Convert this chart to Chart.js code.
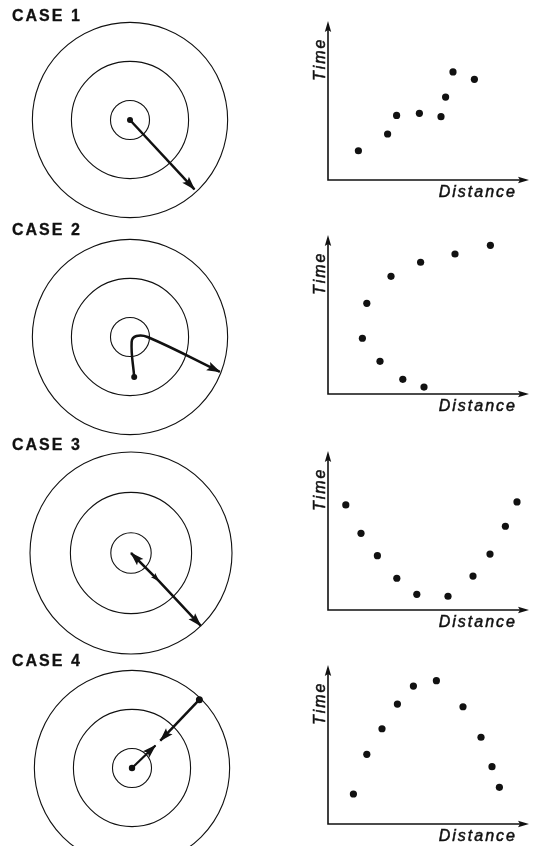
<!DOCTYPE html>
<html>
<head>
<meta charset="utf-8">
<script src="https://cdn.jsdelivr.net/npm/chart.js@4.4.1/dist/chart.umd.min.js"></script>
<style>
  html, body { margin: 0; padding: 0; background: #fff; }
  body { width: 550px; height: 846px; position: relative; overflow: hidden; }
  .case-label {
    position: absolute; left: 12px;
    font: bold 16px/16px "Liberation Sans", Arial, sans-serif;
    letter-spacing: 2px; color: #111;
    -webkit-text-stroke: 0.3px #111;
  }
  canvas { position: absolute; }
</style>
</head>
<body>
<script>
// --- Data ---
const caseLabels = ["CASE 1", "CASE 2", "CASE 3", "CASE 4"];
const xTitle = "Distance";
const yTitle = "Time";

// ring radii of the target diagrams (outer ring = 1)
const ringRadii = [0.2, 0.6, 1.0];

// movement paths drawn inside the rings (x right, y up, outer ring = 1)
const case1PathX = [0, 0.66];
const case1PathY = [0, -0.71];
const case2PathX = [0.043, 0.017, 0.066, 0.18, 0.92];
const case2PathY = [-0.41, -0.05, 0.01, 0.0, -0.356];
const case3PathX = [0, 0.275, 0.69];
const case3PathY = [0, -0.275, -0.72];
const case4InX = [0.69, 0.29];
const case4InY = [0.70, 0.28];
const case4OutX = [0, 0.24];
const case4OutY = [0, 0.23];

// time vs distance readings (both axes 0-10)
const case1Distance = [1.52, 2.98, 3.43, 4.57, 5.65, 5.88, 6.25, 7.32];
const case1Time     = [1.85, 2.91, 4.09, 4.22, 4.01, 5.25, 6.84, 6.37];
const case2Distance = [4.80, 3.74, 2.60, 1.72, 1.94, 3.15, 4.63, 6.35, 8.12];
const case2Time     = [0.44, 0.93, 2.07, 3.53, 5.74, 7.45, 8.34, 8.86, 9.41];
const case3Distance = [0.89, 1.65, 2.47, 3.44, 4.44, 6.00, 7.25, 8.10, 8.87, 9.45];
const case3Time     = [6.65, 4.85, 3.44, 2.01, 0.99, 0.87, 2.15, 3.54, 5.30, 6.84];
const case4Distance = [1.27, 1.94, 2.70, 3.47, 4.27, 5.42, 6.75, 7.65, 8.20, 8.57];
const case4Time     = [1.90, 4.41, 6.03, 7.59, 8.73, 9.07, 7.42, 5.49, 3.63, 2.32];

// --- Layout ---
const labelTops = [8, 222, 437, 653];
const ringBoxes = [[10, 0], [10, 216.7], [10.7, 433.3], [12, 648.3]];
const plotTops = [0, 214, 430, 644];

const ink = "#111";
const toPoints = (xs, ys) => xs.map((x, i) => ({ x, y: ys[i] }));

// --- Helpers ---
function drawHead(ctx, tip, from, len, half) {
    const a = Math.atan2(tip.y - from.y, tip.x - from.x);
    ctx.save();
    ctx.translate(tip.x, tip.y);
    ctx.rotate(a);
    ctx.beginPath();
    ctx.moveTo(1, 0);
    ctx.lineTo(-len, half);
    ctx.lineTo(-len * 0.8, 0);
    ctx.lineTo(-len, -half);
    ctx.closePath();
    ctx.fill();
    ctx.restore();
}

const ringPlugin = {
    id: "rings",
    beforeDatasetsDraw(chart) {
        const { ctx, scales: { x, y } } = chart;
        const cx = x.getPixelForValue(0), cy = y.getPixelForValue(0);
        ctx.save();
        ctx.strokeStyle = ink;
        ctx.lineWidth = 1.1;
        ringRadii.forEach(r => {
            ctx.beginPath();
            ctx.arc(cx, cy, x.getPixelForValue(r) - cx, 0, Math.PI * 2);
            ctx.stroke();
        });
        ctx.restore();
    }
};

const arrowPlugin = {
    id: "arrows",
    afterDatasetsDraw(chart) {
        const ctx = chart.ctx;
        ctx.save();
        ctx.fillStyle = ink;
        chart.data.datasets.forEach((ds, i) => {
            if (!ds.heads) return;
            const pts = chart.getDatasetMeta(i).data;
            const n = pts.length;
            if (ds.heads.includes("end")) drawHead(ctx, pts[n - 1], pts[n - 2], 13, 4.5);
            if (ds.heads.includes("start")) drawHead(ctx, pts[0], pts[1], 13, 4.5);
            if (ds.heads.includes("mid")) drawHead(ctx, pts[1], pts[0], 8, 3);
        });
        ctx.restore();
    }
};

const axisPlugin = {
    id: "axes",
    afterDraw(chart) {
        const { ctx, chartArea: { left, right, top, bottom } } = chart;
        ctx.save();
        ctx.strokeStyle = ink;
        ctx.fillStyle = ink;
        ctx.lineWidth = 1.6;
        ctx.beginPath();
        ctx.moveTo(left, top + 6);
        ctx.lineTo(left, bottom);
        ctx.lineTo(right - 6, bottom);
        ctx.stroke();
        drawHead(ctx, { x: left, y: top }, { x: left, y: bottom }, 10, 3.2);
        drawHead(ctx, { x: right, y: bottom }, { x: left, y: bottom }, 10, 3.2);

        ctx.font = 'italic 16px "Liberation Sans", Arial, sans-serif';
        ctx.letterSpacing = "2px";
        ctx.lineWidth = 0.5;
        ctx.textBaseline = "alphabetic";
        ctx.textAlign = "right";
        ctx.fillText(xTitle, right - 11, bottom + 17);
        ctx.strokeText(xTitle, right - 11, bottom + 17);
        ctx.translate(left - 3, top + 59);
        ctx.rotate(-Math.PI / 2);
        ctx.textAlign = "left";
        ctx.fillText(yTitle, 0, 0);
        ctx.strokeText(yTitle, 0, 0);
        ctx.restore();
    }
};

function pathSet(xs, ys, opts = {}) {
    return Object.assign({
        data: toPoints(xs, ys),
        showLine: true,
        borderColor: ink,
        borderWidth: 2.5,
        pointRadius: 0,
        pointBackgroundColor: ink,
        pointBorderWidth: 0,
        tension: 0
    }, opts);
}

const baseOptions = {
    responsive: false,
    animation: false,
    events: [],
    plugins: { legend: { display: false }, tooltip: { enabled: false } }
};

function makeRing(canvas, datasets) {
    return new Chart(canvas.getContext("2d"), {
        type: "scatter",
        data: { datasets },
        options: Object.assign({}, baseOptions, {
            layout: { padding: 0 },
            scales: {
                x: { display: false, min: -1.188, max: 1.188 },
                y: { display: false, min: -1.188, max: 1.188 }
            }
        }),
        plugins: [ringPlugin, arrowPlugin]
    });
}

function makePlot(canvas, xs, ys) {
    return new Chart(canvas.getContext("2d"), {
        type: "scatter",
        data: {
            datasets: [{
                data: toPoints(xs, ys),
                pointRadius: 3.6,
                pointBackgroundColor: ink,
                pointBorderWidth: 0
            }]
        },
        options: Object.assign({}, baseOptions, {
            layout: { padding: { left: 38, right: 12, top: 22, bottom: 30 } },
            scales: {
                x: { display: false, min: 0, max: 10 },
                y: { display: false, min: 0, max: 10 }
            }
        }),
        plugins: [axisPlugin]
    });
}

function addCanvas(left, top, w, h) {
    const c = document.createElement("canvas");
    c.width = w;
    c.height = h;
    c.style.left = left + "px";
    c.style.top = top + "px";
    document.body.appendChild(c);
    return c;
}

// --- Build ---
const ringSets = [
    [pathSet(case1PathX, case1PathY, { pointRadius: [3, 0], heads: ["end"] })],
    [pathSet(case2PathX, case2PathY, { pointRadius: [3, 0, 0, 0, 0], tension: 0.4, heads: ["end"] })],
    [pathSet(case3PathX, case3PathY, { heads: ["start", "mid", "end"] })],
    [
        pathSet(case4InX, case4InY, { pointRadius: [3.5, 0], heads: ["end"] }),
        pathSet(case4OutX, case4OutY, { pointRadius: [3.2, 0], borderWidth: 2.2, heads: ["end"] })
    ]
];
const plotData = [
    [case1Distance, case1Time],
    [case2Distance, case2Time],
    [case3Distance, case3Time],
    [case4Distance, case4Time]
];

caseLabels.forEach((label, i) => {
    const [rl, rt] = ringBoxes[i];
    makeRing(addCanvas(rl, rt, 240, 240), ringSets[i]);
    makePlot(addCanvas(290, plotTops[i], 250, 210), plotData[i][0], plotData[i][1]);

    const div = document.createElement("div");
    div.className = "case-label";
    div.style.top = labelTops[i] + "px";
    div.textContent = label;
    document.body.appendChild(div);
});
</script>
</body>
</html>
